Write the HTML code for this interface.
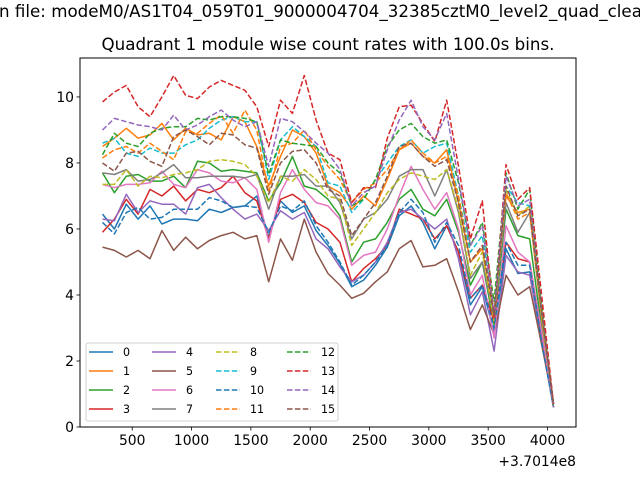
<!DOCTYPE html>
<html><head><meta charset="utf-8"><style>
body{margin:0;background:#fff;}
svg{display:block;font-family:"DejaVu Sans","Liberation Sans",sans-serif;}
</style></head><body>
<svg id="chart" width="640" height="480" viewBox="0 0 640 480">
<rect x="0" y="0" width="640" height="480" fill="#fff"/>
<text x="-1" y="17" font-size="16.7" fill="#000">n file: modeM0/AS1T04_059T01_9000004704_32385cztM0_level2_quad_clean.evt</text>
<text x="328" y="50" font-size="16.7" text-anchor="middle" fill="#000">Quadrant 1 module wise count rates with 100.0s bins.</text>
<g id="plot"></g>
</svg>
<script>
const times=[250,350,450,550,650,750,850,950,1050,1150,1250,1350,1450,1550,1650,1750,1850,1950,2050,2150,2250,2350,2450,2550,2650,2750,2850,2950,3050,3150,3250,3350,3450,3550,3650,3750,3850,3950,4050];
const xTicks=[500,1000,1500,2000,2500,3000,3500,4000];
const yTicks=[0,2,4,6,8,10];
const s0=[6.45,6.0,6.75,6.3,6.7,6.15,6.3,6.3,6.25,6.6,6.5,6.65,6.7,7.0,5.75,6.85,6.5,6.7,5.95,5.5,4.95,4.25,4.45,4.9,5.45,6.4,6.7,6.2,5.4,6.1,5.3,3.7,4.25,2.85,5.4,4.65,4.7,2.6,0.6];
const s1=[8.5,8.75,9.05,8.75,8.85,9.2,8.7,9.05,8.85,8.9,8.7,9.4,9.25,8.5,7.3,8.2,9.0,8.8,8.3,7.3,7.1,6.6,7.0,6.7,7.5,8.4,8.6,8.2,8.0,8.4,6.8,5.0,5.4,3.3,7.0,6.5,6.6,3.5,0.7];
const s2=[7.7,7.1,7.6,7.65,7.45,7.45,7.6,7.25,8.05,8.0,7.75,7.8,7.75,7.7,6.85,7.4,8.2,7.3,7.2,6.9,6.4,5.0,5.6,5.7,6.2,6.9,7.2,6.6,6.4,6.9,5.9,4.3,5.0,3.1,6.6,5.8,5.7,3.0,0.6];
const s3=[5.9,6.3,6.9,6.45,7.2,7.0,7.3,6.85,7.2,7.1,7.25,7.6,7.1,6.85,5.7,6.9,7.05,6.8,6.2,6.0,5.6,4.4,4.8,5.1,5.5,6.6,6.45,6.3,5.7,6.1,5.3,3.9,4.3,3.2,5.6,5.1,5.0,2.8,0.6];
const s4=[6.3,6.25,7.05,6.5,6.85,6.75,6.75,6.45,7.25,7.35,6.95,6.6,6.3,6.45,5.95,6.55,6.3,6.5,5.7,5.4,4.85,4.4,4.6,5.0,5.6,6.5,6.6,6.3,6.0,6.3,5.1,3.4,4.1,2.3,5.2,4.7,4.6,2.6,0.6];
const s5=[5.45,5.35,5.15,5.35,5.1,5.95,5.35,5.75,5.4,5.65,5.8,5.9,5.7,5.8,4.4,5.7,5.05,6.3,5.3,4.65,4.3,3.9,4.05,4.4,4.7,5.4,5.65,4.85,4.9,5.1,4.1,2.95,3.7,2.8,4.6,4.0,4.25,2.5,0.7];
const s6=[7.35,7.25,7.35,7.35,7.4,7.75,7.35,7.25,7.8,7.7,7.45,7.4,7.55,7.2,5.6,7.1,7.8,7.2,6.8,6.7,6.3,4.9,5.2,5.3,6.0,7.0,7.9,7.2,6.6,7.1,6.0,4.0,4.6,2.7,6.1,5.3,5.0,2.9,0.6];
const s7=[7.7,7.65,7.8,7.45,7.5,7.7,7.95,7.55,7.55,7.6,7.6,7.6,7.55,7.65,6.6,7.6,7.6,7.65,7.3,7.3,6.8,5.7,6.3,6.5,6.9,7.6,7.8,7.8,7.0,7.8,6.5,4.5,5.0,3.3,6.8,5.9,6.5,3.3,0.7];
const s8=[7.35,7.35,7.8,7.3,7.6,7.55,7.65,7.7,7.8,8.05,8.1,8.05,7.95,7.6,6.8,7.6,7.45,7.8,7.5,7.0,6.9,5.5,6.0,6.5,7.1,7.5,7.7,7.6,7.5,7.8,6.6,4.6,5.3,3.2,7.2,6.4,6.7,3.3,0.7];
const s9=[8.6,8.75,8.3,8.2,8.45,8.3,8.3,8.55,8.7,9.05,9.3,9.4,9.25,9.25,7.5,8.7,9.1,8.8,8.5,7.4,7.3,6.5,6.9,7.5,8.0,8.5,8.7,8.3,8.5,8.6,7.0,5.3,5.8,3.4,7.3,6.8,6.7,3.6,0.7];
const s10=[6.2,5.85,6.5,6.65,6.3,6.35,6.6,6.6,6.6,6.95,6.85,6.65,6.7,6.65,5.9,6.7,6.55,6.85,6.1,5.6,5.0,4.3,4.6,5.0,5.5,6.5,6.9,6.5,5.6,6.2,5.5,3.9,4.3,3.0,5.6,4.9,4.9,2.6,0.6];
const s11=[8.15,8.4,8.5,8.3,8.6,8.35,8.1,8.95,8.9,9.2,9.45,8.9,9.6,9.0,7.1,8.5,8.6,9.0,8.4,7.9,7.5,6.8,7.2,7.4,7.8,8.4,8.7,8.3,8.0,8.2,7.0,5.0,5.5,3.5,7.1,6.3,6.5,3.4,0.7];
const s12=[8.25,8.9,8.6,8.5,8.9,9.05,9.1,9.1,9.35,9.3,9.4,9.4,9.35,9.25,7.65,8.7,8.6,8.55,8.5,8.0,7.7,6.7,6.9,7.5,8.5,9.0,9.2,8.8,8.6,8.7,7.4,5.5,6.2,3.8,7.7,6.6,7.2,3.7,0.6];
const s13=[9.85,10.15,10.35,9.7,9.4,10.0,10.65,10.05,9.95,10.3,10.5,10.35,10.2,9.7,8.5,9.9,9.5,10.65,9.3,8.3,8.1,6.8,7.25,7.25,8.75,9.7,9.75,9.2,8.65,9.9,7.9,5.7,6.85,3.3,7.95,6.9,7.25,4.0,0.7];
const s14=[9.0,9.35,9.25,9.15,9.1,9.0,9.45,9.0,9.15,9.4,9.6,9.3,9.1,9.25,7.9,9.35,9.25,8.95,8.6,8.3,7.8,6.7,7.1,7.3,8.4,9.3,9.9,9.1,8.7,9.5,7.5,5.5,6.1,3.4,7.6,6.7,6.9,3.5,0.6];
const s15=[8.0,7.75,8.3,8.35,8.05,7.9,8.8,9.0,8.8,8.55,8.9,8.85,8.55,8.45,7.05,8.0,8.35,8.4,8.0,7.2,7.0,5.8,6.3,6.8,7.6,8.5,8.6,8.2,7.9,8.1,6.8,5.0,5.5,3.4,7.3,6.4,6.6,3.5,0.7];
const seriesLabels=["0","1","2","3","4","5","6","7","8","9","10","11","12","13","14","15"];
const allSeries=[s0,s1,s2,s3,s4,s5,s6,s7,s8,s9,s10,s11,s12,s13,s14,s15];
const colors=["#1f77b4","#ff7f0e","#2ca02c","#d62728","#9467bd","#8c564b","#e377c2","#7f7f7f","#bcbd22","#17becf"];
const NS="http://www.w3.org/2000/svg";
const L=80,R=576,T=58,B=427,xmin=60,xmax=4240,ymin=0,ymax=11.18;
function sx(v){return L+(v-xmin)/(xmax-xmin)*(R-L);}
function sy(v){return B-(v-ymin)/(ymax-ymin)*(B-T);}
const g=document.getElementById('plot');
function mk(tag,attrs,parent){const e=document.createElementNS(NS,tag);for(const k in attrs)e.setAttribute(k,attrs[k]);(parent||g).appendChild(e);return e;}
allSeries.forEach((s,i)=>{
  const d=s.map((v,j)=>(j?'L':'M')+sx(times[j]).toFixed(1)+' '+sy(v).toFixed(1)).join(' ');
  const p=mk('path',{d:d,fill:'none',stroke:colors[i%10],'stroke-width':1.5,'stroke-linejoin':'round'});
  if(i>=8)p.setAttribute('stroke-dasharray','5.5,2.4');
  
  
});
const frame=mk('rect',{x:L,y:T,width:R-L,height:B-T,fill:'none',stroke:'#000','stroke-width':1});


xTicks.forEach(t=>{
  const x=sx(t);
  const tk=mk('line',{x1:x,x2:x,y1:B,y2:B+3.5,stroke:'#000','stroke-width':0.8});
  
  
  const tx=mk('text',{x:x,y:B+18,'font-size':13.9,'text-anchor':'middle',fill:'#000'});
  tx.textContent=t;
  
  
});
yTicks.forEach(t=>{
  const y=sy(t);
  const tk=mk('line',{x1:L-3.5,x2:L,y1:y,y2:y,stroke:'#000','stroke-width':0.8});
  
  
  const tx=mk('text',{x:L-6,y:y+5,'font-size':13.9,'text-anchor':'end',fill:'#000'});
  tx.textContent=t;
  
  
});
const off=mk('text',{x:576,y:466,'font-size':13.9,'text-anchor':'end',fill:'#000'});
off.textContent='+3.7014e8';


const lg=mk('g',{});


mk('rect',{x:86,y:343,width:252,height:78,rx:2,fill:'#fff','fill-opacity':0.8,stroke:'#d0d0d0','stroke-width':1},lg);
const colX=[89,152,216,287];
const rowY=[352,371,390,409];
seriesLabels.forEach((lab,i)=>{
  const c=Math.floor(i/4),r=i%4;
  const x=colX[c],y=rowY[r];
  const e=mk('g',{},lg);
  
  
  const ln=mk('line',{x1:x,x2:x+24,y1:y,y2:y,stroke:colors[i%10],'stroke-width':1.5},e);
  if(i>=8)ln.setAttribute('stroke-dasharray','5.5,2.4');
  const t=mk('text',{x:x+34,y:y+4,'font-size':11.1,fill:'#000'},e);
  t.textContent=lab;
});
</script>
</body></html>
